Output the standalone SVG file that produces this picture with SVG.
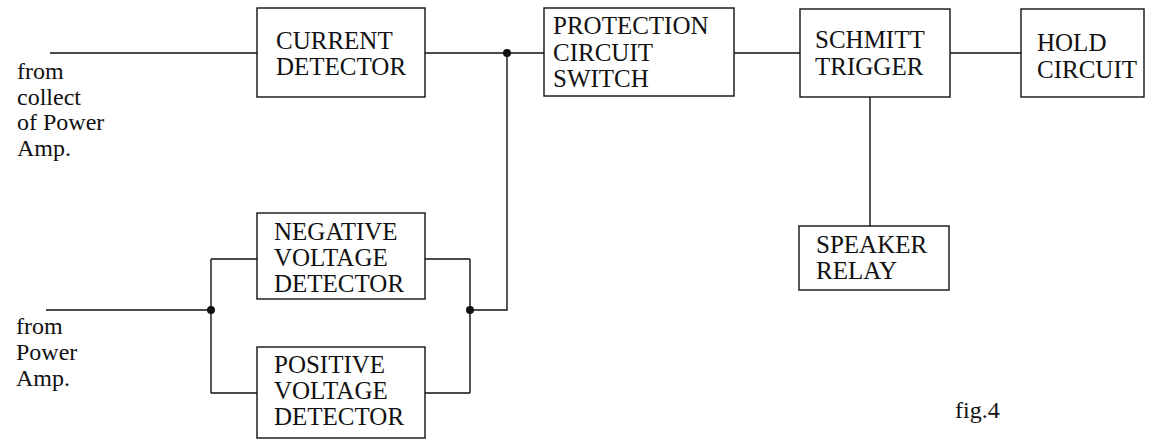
<svg xmlns="http://www.w3.org/2000/svg" width="1168" height="444" viewBox="0 0 1168 444">
<style>
.box{fill:#fff;stroke:#111;stroke-width:1.4}
.w{fill:none;stroke:#111;stroke-width:1.4}
.dot{fill:#111}
text{font-family:"Liberation Serif","Times New Roman",serif;font-size:25px;fill:#111}
.lbl{font-size:24px}
</style>
<rect width="1168" height="444" fill="#fff"/>
<g id="connectors">
<path class="w" d="M50 53H257M425 53H544M734 53H800M950 53H1021M870 97V226"/>
<path class="w" d="M507 53V310H470M470 259V393M425 259H470M425 393H470"/>
<path class="w" d="M46 310H211M211 259V393M211 259H257M211 393H257"/>
<circle class="dot" cx="507" cy="53" r="4"/>
<circle class="dot" cx="470" cy="310" r="4"/>
<circle class="dot" cx="211" cy="310" r="4"/>
</g>
<g id="current-detector">
<rect class="box" x="257" y="8" width="168" height="89"/>
<text x="276" y="49">CURRENT</text>
<text x="276" y="75">DETECTOR</text>
</g>
<g id="protection-circuit-switch">
<rect class="box" x="544" y="8" width="190" height="88"/>
<text x="553" y="34">PROTECTION</text>
<text x="553" y="61">CIRCUIT</text>
<text x="553" y="87">SWITCH</text>
</g>
<g id="schmitt-trigger">
<rect class="box" x="800" y="9" width="150" height="88"/>
<text x="815" y="48">SCHMITT</text>
<text x="815" y="75">TRIGGER</text>
</g>
<g id="hold-circuit">
<rect class="box" x="1021" y="9" width="123" height="88"/>
<text x="1037" y="51">HOLD</text>
<text x="1037" y="78">CIRCUIT</text>
</g>
<g id="speaker-relay">
<rect class="box" x="799" y="226" width="150" height="64"/>
<text x="816" y="253">SPEAKER</text>
<text x="816" y="279">RELAY</text>
</g>
<g id="negative-voltage-detector">
<rect class="box" x="257" y="213" width="168" height="86"/>
<text x="274" y="240">NEGATIVE</text>
<text x="274" y="266">VOLTAGE</text>
<text x="274" y="292">DETECTOR</text>
</g>
<g id="positive-voltage-detector">
<rect class="box" x="257" y="347" width="168" height="91"/>
<text x="274" y="373">POSITIVE</text>
<text x="274" y="399">VOLTAGE</text>
<text x="274" y="425">DETECTOR</text>
</g>
<g id="label-collect">
<text class="lbl" x="17" y="79">from</text>
<text class="lbl" x="17" y="105">collect</text>
<text class="lbl" x="17" y="130">of Power</text>
<text class="lbl" x="17" y="156">Amp.</text>
</g>
<g id="label-power">
<text class="lbl" x="16" y="334">from</text>
<text class="lbl" x="16" y="360">Power</text>
<text class="lbl" x="16" y="386">Amp.</text>
</g>
<g id="caption">
<text class="lbl" x="955" y="418">fig.4</text>
</g>
</svg>
